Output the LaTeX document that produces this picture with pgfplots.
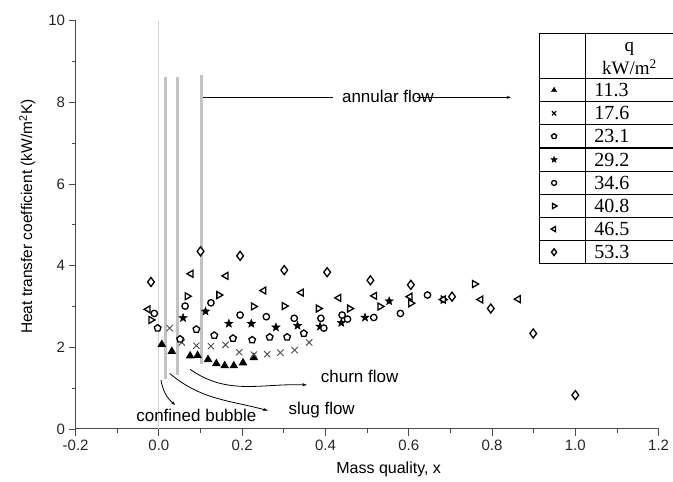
\documentclass[border=0pt]{standalone}
\usepackage{pgfplots}
\pgfplotsset{compat=1.18}
\usepackage{fontspec}
\setmainfont{Liberation Sans}
\newfontfamily\tabfont{Liberation Serif}
\usetikzlibrary{plotmarks,arrows.meta}
\pgfdeclareplotmark{fstar}{%
  \pgfpathmoveto{\pgfpointpolar{90}{\pgfplotmarksize}}%
  \pgfpathlineto{\pgfpointpolar{126}{0.42\pgfplotmarksize}}%
  \pgfpathlineto{\pgfpointpolar{162}{\pgfplotmarksize}}%
  \pgfpathlineto{\pgfpointpolar{198}{0.42\pgfplotmarksize}}%
  \pgfpathlineto{\pgfpointpolar{234}{\pgfplotmarksize}}%
  \pgfpathlineto{\pgfpointpolar{270}{0.42\pgfplotmarksize}}%
  \pgfpathlineto{\pgfpointpolar{306}{\pgfplotmarksize}}%
  \pgfpathlineto{\pgfpointpolar{342}{0.42\pgfplotmarksize}}%
  \pgfpathlineto{\pgfpointpolar{18}{\pgfplotmarksize}}%
  \pgfpathlineto{\pgfpointpolar{54}{0.42\pgfplotmarksize}}%
  \pgfpathclose\pgfusepathqfillstroke}
\definecolor{bargray}{RGB}{195,195,195}
\begin{document}
\begin{tikzpicture}
\useasboundingbox (-75.6pt,-53pt) rectangle (597.4pt,429pt);
\begin{axis}[
  at={(0pt,0pt)}, anchor=south west,
  scale only axis, width=583pt, height=408.4pt,
  xmin=-0.2, xmax=1.2, ymin=0, ymax=10,
  axis x line=bottom, axis y line=left,
  axis line style={-, line width=1pt, black!70},
  clip=false,
  xtick={-0.2,0,0.2,0.4,0.6,0.8,1.0,1.2},
  ytick={0,2,4,6,8,10},
  minor x tick num=1, minor y tick num=1,
  tick align=outside,
  major tick length=7pt, minor tick length=4pt,
  tick style={line width=0.9pt, black!70},
  /pgf/number format/assume math mode=true,
  xticklabel style={/pgf/number format/.cd, fixed, fixed zerofill, precision=1},
  ticklabel style={font=\fontsize{15}{17}\selectfont, text=black!85},
  xlabel={Mass quality, x},
  ylabel={Heat transfer coefficient (kW/m\textsuperscript{2}K)},
  xlabel style={font=\fontsize{16}{18}\selectfont, at={(axis description cs:0.537,-0.098)}, anchor=center},
  ylabel style={font=\fontsize{15.5}{18}\selectfont, at={(axis description cs:-0.083,0.52)}, anchor=center},
]
% thin line at x = 0
\addplot[black!18, line width=0.8pt, forget plot] coordinates {(0,0) (0,10)};
% regime boundaries
\addplot[bargray, line width=3.4pt, forget plot] coordinates {(0.016,1.22) (0.016,8.62)};
\addplot[bargray, line width=3.4pt, forget plot] coordinates {(0.044,1.32) (0.044,8.62)};
\addplot[bargray, line width=3.4pt, forget plot] coordinates {(0.103,1.58) (0.103,8.66)};

% annotations
\draw[black, line width=0.8pt] (axis cs:0.107,8.12) -- (axis cs:0.418,8.12);
\draw[black, line width=0.8pt, -{Stealth[length=4pt,width=3pt]}] (axis cs:0.62,8.12) -- (axis cs:0.845,8.12);
\node[font=\fontsize{17}{19}\selectfont] at (axis cs:0.55,8.14) {annular flow};
\draw[black, line width=0.8pt, -{Stealth[length=5pt,width=3pt]}] (axis cs:0.075,1.46) to[out=-35,in=178] (axis cs:0.356,1.08);
\node[font=\fontsize{17}{19}\selectfont] at (axis cs:0.482,1.28) {churn flow};
\draw[black, line width=0.8pt, -{Stealth[length=5pt,width=3pt]}] (axis cs:0.026,1.36) to[out=-40,in=165] (axis cs:0.262,0.45);
\node[font=\fontsize{17}{19}\selectfont] at (axis cs:0.391,0.47) {slug flow};
\draw[black, line width=0.8pt, -{Stealth[length=4pt,width=3pt]}] (axis cs:0.005,1.2) to[out=-80,in=140] (axis cs:0.039,0.59);
\node[font=\fontsize{17}{19}\selectfont] at (axis cs:0.09,0.33) {confined bubble};

% data
\addplot[only marks, mark=triangle*, mark size=4.2pt, mark options={fill=black, draw=black, line width=0.8pt}]
 coordinates {(0.007,2.07)(0.031,1.9)(0.075,1.79)(0.093,1.80)(0.118,1.70)(0.138,1.60)(0.158,1.55)(0.18,1.55)(0.202,1.62)(0.228,1.75)};
\addplot[only marks, mark=x, mark size=4.4pt, mark options={draw=black!70, line width=0.9pt}]
 coordinates {(0.026,2.47)(0.055,2.12)(0.09,2.04)(0.125,2.03)(0.16,2.06)(0.193,1.88)(0.228,1.82)(0.26,1.83)(0.292,1.87)(0.326,1.93)(0.361,2.12)};
\addplot[only marks, mark=pentagon*, mark size=3.5pt, mark options={fill=white, draw=black, line width=1.3pt}]
 coordinates {(-0.003,2.47)(0.051,2.2)(0.09,2.44)(0.133,2.29)(0.178,2.22)(0.224,2.18)(0.266,2.25)(0.308,2.25)(0.348,2.34)};
\addplot[only marks, mark=fstar, mark size=4.3pt, mark options={fill=black, draw=black, line width=0.5pt}]
 coordinates {(0.058,2.72)(0.112,2.88)(0.168,2.58)(0.222,2.58)(0.281,2.49)(0.333,2.53)(0.387,2.51)(0.438,2.6)(0.495,2.73)(0.553,3.13)};
\addplot[only marks, mark=*, mark size=3.2pt, mark options={fill=white, draw=black, line width=1.3pt}]
 coordinates {(-0.011,2.83)(0.063,3.01)(0.125,3.09)(0.195,2.79)(0.258,2.75)(0.325,2.71)(0.389,2.71)(0.396,2.47)(0.44,2.79)(0.453,2.69)(0.516,2.73)(0.58,2.83)(0.645,3.28)};
\addplot[only marks, mark=triangle*, mark size=4pt, mark options={rotate=-90, fill=white, draw=black, line width=1.3pt}]
 coordinates {(-0.019,2.67)(0.068,3.25)(0.144,3.28)(0.227,3.0)(0.301,3.01)(0.383,2.95)(0.458,2.95)(0.531,3.0)(0.605,3.08)(0.683,3.17)(0.758,3.55)};
\addplot[only marks, mark=triangle*, mark size=4pt, mark options={rotate=90, fill=white, draw=black, line width=1.3pt}]
 coordinates {(-0.026,2.93)(0.077,3.8)(0.161,3.75)(0.252,3.39)(0.342,3.34)(0.432,3.21)(0.518,3.26)(0.603,3.24)(0.683,3.17)(0.773,3.17)(0.863,3.18)};
\addplot[only marks, mark=diamond*, mark size=4.5pt, mark options={fill=white, draw=black, line width=1.3pt}]
 coordinates {(-0.019,3.6)(0.1,4.35)(0.195,4.24)(0.301,3.89)(0.404,3.84)(0.508,3.64)(0.605,3.53)(0.704,3.24)(0.797,2.95)(0.899,2.34)(1.0,0.83)};

% legend table
\draw[black, line width=1.1pt] (axis cs:0.915,9.69) -- (axis cs:0.915,4.05);
\draw[black, line width=1.1pt] (axis cs:1.024,9.69) -- (axis cs:1.024,4.05);
\pgfplotsinvokeforeach{9.69,8.58,8.01,7.45,6.88,6.31,5.74,5.18,4.61,4.05}{
  \draw[black, line width=1.1pt] (axis cs:0.915,#1) -- (axis cs:1.26,#1);
}
\node[font=\tabfont\fontsize{19}{21}\selectfont] at (axis cs:1.13,9.30) {q};
\node[font=\tabfont\fontsize{19}{21}\selectfont] at (axis cs:1.13,8.86) {kW/m\textsuperscript{2}};
\node[font=\tabfont\fontsize{20}{22}\selectfont, anchor=west, inner sep=0pt] at (axis cs:1.045,8.295) {11.3};
\node[font=\tabfont\fontsize{20}{22}\selectfont, anchor=west, inner sep=0pt] at (axis cs:1.045,7.73) {17.6};
\node[font=\tabfont\fontsize{20}{22}\selectfont, anchor=west, inner sep=0pt] at (axis cs:1.045,7.165) {23.1};
\node[font=\tabfont\fontsize{20}{22}\selectfont, anchor=west, inner sep=0pt] at (axis cs:1.045,6.595) {29.2};
\node[font=\tabfont\fontsize{20}{22}\selectfont, anchor=west, inner sep=0pt] at (axis cs:1.045,6.025) {34.6};
\node[font=\tabfont\fontsize{20}{22}\selectfont, anchor=west, inner sep=0pt] at (axis cs:1.045,5.46) {40.8};
\node[font=\tabfont\fontsize{20}{22}\selectfont, anchor=west, inner sep=0pt] at (axis cs:1.045,4.895) {46.5};
\node[font=\tabfont\fontsize{20}{22}\selectfont, anchor=west, inner sep=0pt] at (axis cs:1.045,4.33) {53.3};
\addplot[only marks, forget plot, mark=triangle*, mark size=3pt, mark options={fill=black, draw=black}] coordinates {(0.949,8.295)};
\addplot[only marks, forget plot, mark=x, mark size=3pt, mark options={draw=black, line width=1.1pt}] coordinates {(0.949,7.73)};
\addplot[only marks, forget plot, mark=pentagon*, mark size=2.7pt, mark options={fill=white, draw=black, line width=1.3pt}] coordinates {(0.949,7.165)};
\addplot[only marks, forget plot, mark=fstar, mark size=3.3pt, mark options={fill=black, draw=black, line width=0.4pt}] coordinates {(0.949,6.595)};
\addplot[only marks, forget plot, mark=*, mark size=2.5pt, mark options={fill=white, draw=black, line width=1.3pt}] coordinates {(0.949,6.025)};
\addplot[only marks, forget plot, mark=triangle*, mark size=3pt, mark options={rotate=-90, fill=white, draw=black, line width=1.3pt}] coordinates {(0.949,5.46)};
\addplot[only marks, forget plot, mark=triangle*, mark size=3pt, mark options={rotate=90, fill=white, draw=black, line width=1.3pt}] coordinates {(0.949,4.895)};
\addplot[only marks, forget plot, mark=diamond*, mark size=3.4pt, mark options={fill=white, draw=black, line width=1.3pt}] coordinates {(0.949,4.33)};
\end{axis}
\end{tikzpicture}
\end{document}
